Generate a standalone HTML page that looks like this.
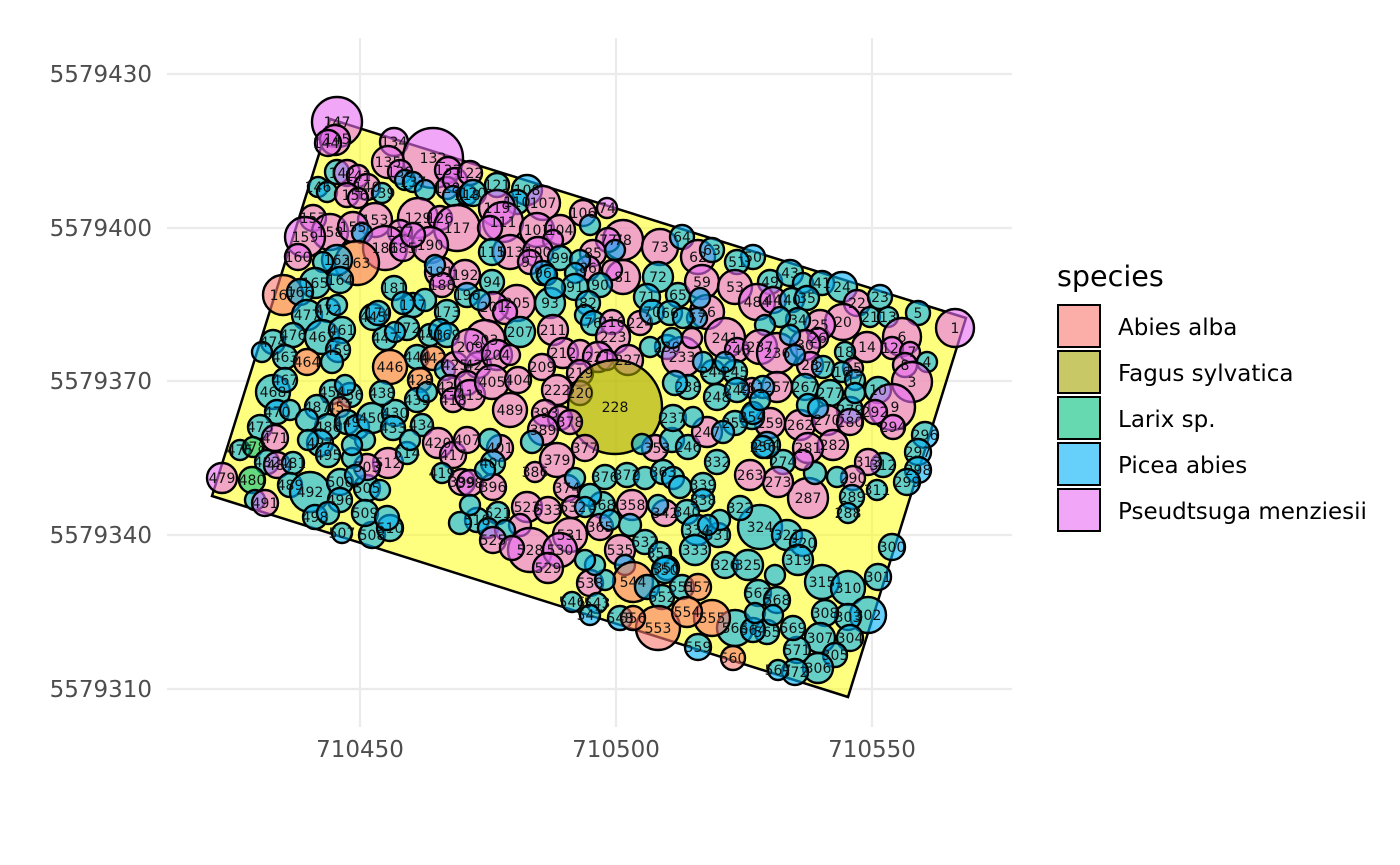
<!DOCTYPE html>
<html><head><meta charset="utf-8"><style>
html,body{margin:0;padding:0;background:#fff;}
svg{display:block;font-family:"DejaVu Sans","Liberation Sans",sans-serif;}
.A{fill:#F8766D;fill-opacity:.6;stroke:#000;stroke-width:2.4}
.F{fill:#A3A500;fill-opacity:.6;stroke:#000;stroke-width:2.4}
.L{fill:#00BF7D;fill-opacity:.6;stroke:#000;stroke-width:2.4}
.P{fill:#00B0F6;fill-opacity:.6;stroke:#000;stroke-width:2.4}
.D{fill:#E76BF3;fill-opacity:.6;stroke:#000;stroke-width:2.4}
.lb text{font-size:14px;fill:#111;text-anchor:middle;}
.tk{font-size:23px;fill:#4D4D4D;}
.lg{font-size:23px;fill:#000;}
</style></head><body>
<svg width="1400" height="865" viewBox="0 0 1400 865" xmlns="http://www.w3.org/2000/svg">
<rect width="1400" height="865" fill="#fff"/>
<g stroke="#EBEBEB" stroke-width="2.2">
<line x1="167" y1="74" x2="1012" y2="74"/>
<line x1="167" y1="228" x2="1012" y2="228"/>
<line x1="167" y1="381" x2="1012" y2="381"/>
<line x1="167" y1="535" x2="1012" y2="535"/>
<line x1="167" y1="689" x2="1012" y2="689"/>
<line x1="360" y1="38" x2="360" y2="727"/>
<line x1="616" y1="38" x2="616" y2="727"/>
<line x1="872" y1="38" x2="872" y2="727"/>
</g>
<polygon points="330,119 966,318 848,697 212,496" fill="#FFFF00" fill-opacity="0.5" stroke="#000" stroke-width="2.5"/>
<g>
<circle class="D" cx="337" cy="122" r="25"/>
<circle class="D" cx="335" cy="140" r="15"/>
<circle class="D" cx="328" cy="143" r="13"/>
<circle class="D" cx="394" cy="142" r="14"/>
<circle class="D" cx="433" cy="158" r="30"/>
<circle class="D" cx="388" cy="162" r="16"/>
<circle class="D" cx="400" cy="172" r="12"/>
<circle class="P" cx="405" cy="180" r="10"/>
<circle class="D" cx="448" cy="170" r="13"/>
<circle class="P" cx="337" cy="172" r="12"/>
<circle class="D" cx="347" cy="173" r="13"/>
<circle class="D" cx="358" cy="176" r="11"/>
<circle class="P" cx="318" cy="187" r="10"/>
<circle class="P" cx="327" cy="192" r="10"/>
<circle class="D" cx="367" cy="187" r="13"/>
<circle class="D" cx="347" cy="195" r="12"/>
<circle class="P" cx="382" cy="193" r="10"/>
<circle class="D" cx="358" cy="198" r="10"/>
<circle class="P" cx="413" cy="182" r="10"/>
<circle class="D" cx="447" cy="188" r="11"/>
<circle class="P" cx="425" cy="190" r="10"/>
<circle class="D" cx="455" cy="180" r="12"/>
<circle class="P" cx="453" cy="196" r="10"/>
<circle class="D" cx="375" cy="220" r="17"/>
<circle class="D" cx="313" cy="218" r="13"/>
<circle class="D" cx="330" cy="232" r="18"/>
<circle class="D" cx="305" cy="237" r="20"/>
<circle class="D" cx="353" cy="227" r="15"/>
<circle class="P" cx="362" cy="233" r="10"/>
<circle class="D" cx="418" cy="218" r="20"/>
<circle class="D" cx="440" cy="218" r="12"/>
<circle class="D" cx="400" cy="232" r="12"/>
<circle class="D" cx="457" cy="228" r="23"/>
<circle class="D" cx="385" cy="248" r="22"/>
<circle class="D" cx="403" cy="248" r="13"/>
<circle class="D" cx="430" cy="245" r="18"/>
<circle class="D" cx="413" cy="235" r="12"/>
<circle class="A" cx="357" cy="263" r="22"/>
<circle class="P" cx="337" cy="260" r="15"/>
<circle class="D" cx="298" cy="257" r="13"/>
<circle class="P" cx="323" cy="262" r="10"/>
<circle class="P" cx="315" cy="283" r="15"/>
<circle class="P" cx="340" cy="280" r="13"/>
<circle class="A" cx="283" cy="295" r="20"/>
<circle class="P" cx="300" cy="292" r="13"/>
<circle class="P" cx="394" cy="288" r="12"/>
<circle class="D" cx="440" cy="272" r="15"/>
<circle class="D" cx="465" cy="275" r="15"/>
<circle class="D" cx="442" cy="285" r="12"/>
<circle class="P" cx="435" cy="265" r="10"/>
<circle class="P" cx="467" cy="195" r="10"/>
<circle class="D" cx="470" cy="173" r="12"/>
<circle class="P" cx="473" cy="193" r="13"/>
<circle class="P" cx="497" cy="185" r="12"/>
<circle class="P" cx="527" cy="190" r="15"/>
<circle class="P" cx="517" cy="202" r="12"/>
<circle class="D" cx="543" cy="203" r="17"/>
<circle class="D" cx="497" cy="208" r="18"/>
<circle class="D" cx="503" cy="222" r="20"/>
<circle class="D" cx="490" cy="228" r="12"/>
<circle class="D" cx="537" cy="230" r="17"/>
<circle class="D" cx="560" cy="230" r="15"/>
<circle class="D" cx="583" cy="213" r="13"/>
<circle class="P" cx="590" cy="225" r="10"/>
<circle class="D" cx="607" cy="208" r="10"/>
<circle class="D" cx="553" cy="240" r="10"/>
<circle class="D" cx="623" cy="240" r="20"/>
<circle class="D" cx="608" cy="240" r="12"/>
<circle class="D" cx="660" cy="247" r="18"/>
<circle class="P" cx="682" cy="237" r="12"/>
<circle class="D" cx="698" cy="257" r="17"/>
<circle class="P" cx="712" cy="250" r="12"/>
<circle class="D" cx="510" cy="252" r="17"/>
<circle class="D" cx="538" cy="252" r="15"/>
<circle class="P" cx="492" cy="252" r="13"/>
<circle class="D" cx="530" cy="262" r="12"/>
<circle class="P" cx="560" cy="258" r="12"/>
<circle class="P" cx="543" cy="273" r="12"/>
<circle class="D" cx="593" cy="253" r="13"/>
<circle class="P" cx="615" cy="250" r="10"/>
<circle class="D" cx="588" cy="268" r="12"/>
<circle class="P" cx="580" cy="260" r="10"/>
<circle class="P" cx="575" cy="273" r="10"/>
<circle class="D" cx="623" cy="277" r="17"/>
<circle class="D" cx="612" cy="270" r="10"/>
<circle class="P" cx="658" cy="277" r="15"/>
<circle class="P" cx="575" cy="287" r="13"/>
<circle class="P" cx="600" cy="285" r="12"/>
<circle class="P" cx="647" cy="297" r="13"/>
<circle class="P" cx="678" cy="295" r="12"/>
<circle class="D" cx="702" cy="282" r="17"/>
<circle class="D" cx="707" cy="312" r="17"/>
<circle class="P" cx="700" cy="298" r="10"/>
<circle class="P" cx="697" cy="318" r="10"/>
<circle class="P" cx="492" cy="282" r="12"/>
<circle class="D" cx="517" cy="303" r="18"/>
<circle class="D" cx="493" cy="307" r="15"/>
<circle class="D" cx="505" cy="312" r="12"/>
<circle class="P" cx="550" cy="303" r="15"/>
<circle class="P" cx="588" cy="303" r="12"/>
<circle class="P" cx="585" cy="315" r="10"/>
<circle class="P" cx="593" cy="323" r="12"/>
<circle class="P" cx="520" cy="332" r="15"/>
<circle class="D" cx="553" cy="330" r="15"/>
<circle class="D" cx="485" cy="340" r="20"/>
<circle class="D" cx="612" cy="322" r="12"/>
<circle class="D" cx="613" cy="337" r="17"/>
<circle class="D" cx="640" cy="323" r="12"/>
<circle class="D" cx="563" cy="353" r="15"/>
<circle class="D" cx="580" cy="352" r="12"/>
<circle class="D" cx="598" cy="357" r="15"/>
<circle class="D" cx="628" cy="360" r="15"/>
<circle class="P" cx="667" cy="347" r="12"/>
<circle class="D" cx="682" cy="357" r="20"/>
<circle class="D" cx="725" cy="338" r="20"/>
<circle class="P" cx="652" cy="312" r="12"/>
<circle class="P" cx="670" cy="313" r="12"/>
<circle class="P" cx="683" cy="318" r="10"/>
<circle class="P" cx="672" cy="338" r="10"/>
<circle class="D" cx="692" cy="338" r="10"/>
<circle class="P" cx="650" cy="347" r="10"/>
<circle class="D" cx="607" cy="360" r="10"/>
<circle class="P" cx="753" cy="257" r="12"/>
<circle class="P" cx="737" cy="262" r="12"/>
<circle class="P" cx="770" cy="282" r="12"/>
<circle class="P" cx="790" cy="273" r="13"/>
<circle class="P" cx="803" cy="283" r="10"/>
<circle class="P" cx="822" cy="283" r="12"/>
<circle class="P" cx="842" cy="287" r="15"/>
<circle class="D" cx="857" cy="303" r="13"/>
<circle class="P" cx="880" cy="297" r="12"/>
<circle class="P" cx="870" cy="317" r="10"/>
<circle class="P" cx="888" cy="317" r="10"/>
<circle class="P" cx="918" cy="313" r="12"/>
<circle class="D" cx="955" cy="328" r="19"/>
<circle class="D" cx="902" cy="337" r="19"/>
<circle class="D" cx="892" cy="348" r="11"/>
<circle class="D" cx="910" cy="352" r="10"/>
<circle class="D" cx="843" cy="322" r="18"/>
<circle class="D" cx="820" cy="325" r="15"/>
<circle class="D" cx="818" cy="338" r="10"/>
<circle class="D" cx="867" cy="347" r="15"/>
<circle class="P" cx="845" cy="352" r="10"/>
<circle class="D" cx="853" cy="368" r="10"/>
<circle class="P" cx="842" cy="372" r="10"/>
<circle class="P" cx="855" cy="380" r="10"/>
<circle class="D" cx="905" cy="365" r="12"/>
<circle class="P" cx="927" cy="362" r="10"/>
<circle class="D" cx="912" cy="382" r="20"/>
<circle class="P" cx="878" cy="390" r="13"/>
<circle class="D" cx="892" cy="407" r="23"/>
<circle class="D" cx="875" cy="412" r="12"/>
<circle class="D" cx="893" cy="427" r="12"/>
<circle class="D" cx="735" cy="287" r="17"/>
<circle class="D" cx="757" cy="302" r="18"/>
<circle class="D" cx="773" cy="300" r="13"/>
<circle class="P" cx="792" cy="300" r="12"/>
<circle class="P" cx="807" cy="298" r="12"/>
<circle class="P" cx="798" cy="320" r="12"/>
<circle class="P" cx="780" cy="317" r="10"/>
<circle class="P" cx="765" cy="325" r="10"/>
<circle class="D" cx="737" cy="350" r="12"/>
<circle class="D" cx="760" cy="347" r="17"/>
<circle class="D" cx="777" cy="353" r="20"/>
<circle class="D" cx="805" cy="345" r="15"/>
<circle class="D" cx="810" cy="365" r="13"/>
<circle class="P" cx="823" cy="367" r="11"/>
<circle class="P" cx="735" cy="372" r="12"/>
<circle class="D" cx="752" cy="388" r="10"/>
<circle class="D" cx="777" cy="387" r="15"/>
<circle class="P" cx="805" cy="387" r="13"/>
<circle class="P" cx="830" cy="393" r="13"/>
<circle class="P" cx="850" cy="410" r="13"/>
<circle class="D" cx="770" cy="423" r="15"/>
<circle class="D" cx="800" cy="425" r="15"/>
<circle class="D" cx="827" cy="420" r="15"/>
<circle class="D" cx="850" cy="422" r="13"/>
<circle class="P" cx="752" cy="417" r="12"/>
<circle class="P" cx="808" cy="405" r="11"/>
<circle class="P" cx="818" cy="408" r="10"/>
<circle class="P" cx="855" cy="393" r="10"/>
<circle class="P" cx="790" cy="335" r="10"/>
<circle class="P" cx="795" cy="355" r="10"/>
<circle class="P" cx="307" cy="315" r="15"/>
<circle class="P" cx="328" cy="310" r="12"/>
<circle class="P" cx="337" cy="305" r="10"/>
<circle class="P" cx="273" cy="342" r="12"/>
<circle class="P" cx="293" cy="335" r="12"/>
<circle class="P" cx="322" cy="337" r="17"/>
<circle class="P" cx="342" cy="330" r="13"/>
<circle class="P" cx="285" cy="357" r="12"/>
<circle class="A" cx="307" cy="362" r="13"/>
<circle class="P" cx="338" cy="350" r="12"/>
<circle class="P" cx="332" cy="362" r="11"/>
<circle class="P" cx="262" cy="352" r="10"/>
<circle class="P" cx="273" cy="392" r="17"/>
<circle class="P" cx="285" cy="380" r="12"/>
<circle class="P" cx="277" cy="412" r="12"/>
<circle class="P" cx="290" cy="410" r="10"/>
<circle class="P" cx="260" cy="427" r="12"/>
<circle class="P" cx="240" cy="450" r="10"/>
<circle class="L" cx="253" cy="447" r="10"/>
<circle class="D" cx="275" cy="438" r="13"/>
<circle class="P" cx="267" cy="462" r="12"/>
<circle class="D" cx="277" cy="465" r="13"/>
<circle class="P" cx="293" cy="463" r="11"/>
<circle class="D" cx="222" cy="478" r="15"/>
<circle class="L" cx="252" cy="480" r="13"/>
<circle class="P" cx="255" cy="500" r="10"/>
<circle class="D" cx="265" cy="503" r="13"/>
<circle class="P" cx="290" cy="485" r="12"/>
<circle class="P" cx="310" cy="492" r="20"/>
<circle class="P" cx="340" cy="482" r="13"/>
<circle class="P" cx="367" cy="488" r="13"/>
<circle class="P" cx="340" cy="500" r="12"/>
<circle class="P" cx="315" cy="517" r="12"/>
<circle class="P" cx="328" cy="513" r="11"/>
<circle class="P" cx="342" cy="533" r="10"/>
<circle class="P" cx="372" cy="535" r="13"/>
<circle class="P" cx="365" cy="513" r="13"/>
<circle class="P" cx="390" cy="528" r="13"/>
<circle class="P" cx="387" cy="518" r="12"/>
<circle class="D" cx="388" cy="463" r="15"/>
<circle class="D" cx="367" cy="467" r="13"/>
<circle class="P" cx="352" cy="458" r="10"/>
<circle class="P" cx="355" cy="475" r="10"/>
<circle class="P" cx="380" cy="490" r="10"/>
<circle class="P" cx="407" cy="453" r="11"/>
<circle class="P" cx="332" cy="392" r="12"/>
<circle class="P" cx="350" cy="395" r="12"/>
<circle class="P" cx="345" cy="385" r="10"/>
<circle class="A" cx="340" cy="407" r="10"/>
<circle class="P" cx="317" cy="407" r="12"/>
<circle class="P" cx="328" cy="427" r="13"/>
<circle class="P" cx="307" cy="420" r="11"/>
<circle class="P" cx="320" cy="443" r="13"/>
<circle class="P" cx="328" cy="455" r="12"/>
<circle class="P" cx="308" cy="440" r="10"/>
<circle class="P" cx="347" cy="422" r="12"/>
<circle class="P" cx="357" cy="427" r="12"/>
<circle class="P" cx="372" cy="418" r="15"/>
<circle class="P" cx="365" cy="440" r="10"/>
<circle class="P" cx="352" cy="445" r="10"/>
<circle class="A" cx="390" cy="367" r="17"/>
<circle class="P" cx="385" cy="338" r="12"/>
<circle class="P" cx="373" cy="317" r="13"/>
<circle class="P" cx="430" cy="335" r="11"/>
<circle class="P" cx="417" cy="357" r="12"/>
<circle class="A" cx="433" cy="358" r="12"/>
<circle class="A" cx="420" cy="380" r="12"/>
<circle class="P" cx="445" cy="370" r="10"/>
<circle class="P" cx="395" cy="413" r="13"/>
<circle class="P" cx="382" cy="393" r="12"/>
<circle class="P" cx="417" cy="400" r="12"/>
<circle class="P" cx="393" cy="428" r="12"/>
<circle class="P" cx="422" cy="425" r="11"/>
<circle class="P" cx="410" cy="440" r="10"/>
<circle class="P" cx="427" cy="392" r="10"/>
<circle class="D" cx="455" cy="365" r="13"/>
<circle class="D" cx="450" cy="387" r="12"/>
<circle class="D" cx="478" cy="365" r="13"/>
<circle class="D" cx="438" cy="443" r="15"/>
<circle class="D" cx="453" cy="455" r="13"/>
<circle class="P" cx="442" cy="473" r="10"/>
<circle class="D" cx="462" cy="482" r="13"/>
<circle class="D" cx="453" cy="400" r="12"/>
<circle class="D" cx="467" cy="383" r="12"/>
<circle class="D" cx="470" cy="395" r="15"/>
<circle class="P" cx="467" cy="295" r="12"/>
<circle class="P" cx="480" cy="300" r="10"/>
<circle class="P" cx="413" cy="305" r="12"/>
<circle class="P" cx="403" cy="303" r="11"/>
<circle class="P" cx="425" cy="300" r="11"/>
<circle class="P" cx="447" cy="312" r="12"/>
<circle class="P" cx="378" cy="313" r="12"/>
<circle class="P" cx="440" cy="330" r="11"/>
<circle class="P" cx="407" cy="328" r="12"/>
<circle class="P" cx="447" cy="335" r="12"/>
<circle class="P" cx="395" cy="332" r="10"/>
<circle class="D" cx="470" cy="347" r="18"/>
<circle class="D" cx="497" cy="355" r="15"/>
<circle class="D" cx="510" cy="355" r="10"/>
<circle class="D" cx="492" cy="382" r="17"/>
<circle class="D" cx="518" cy="380" r="13"/>
<circle class="D" cx="542" cy="367" r="13"/>
<circle class="D" cx="580" cy="373" r="13"/>
<circle class="D" cx="580" cy="393" r="12"/>
<circle class="D" cx="557" cy="390" r="15"/>
<circle class="P" cx="547" cy="275" r="10"/>
<circle class="P" cx="555" cy="288" r="10"/>
<circle class="D" cx="510" cy="410" r="17"/>
<circle class="F" cx="615" cy="407" r="47"/>
<circle class="D" cx="545" cy="413" r="13"/>
<circle class="D" cx="560" cy="418" r="12"/>
<circle class="D" cx="570" cy="422" r="12"/>
<circle class="D" cx="543" cy="430" r="15"/>
<circle class="P" cx="532" cy="442" r="11"/>
<circle class="D" cx="467" cy="440" r="13"/>
<circle class="D" cx="500" cy="448" r="13"/>
<circle class="P" cx="490" cy="440" r="11"/>
<circle class="P" cx="493" cy="463" r="12"/>
<circle class="D" cx="585" cy="448" r="13"/>
<circle class="D" cx="535" cy="472" r="10"/>
<circle class="D" cx="557" cy="460" r="17"/>
<circle class="D" cx="470" cy="483" r="13"/>
<circle class="D" cx="493" cy="487" r="13"/>
<circle class="P" cx="485" cy="470" r="10"/>
<circle class="D" cx="567" cy="488" r="13"/>
<circle class="P" cx="575" cy="478" r="10"/>
<circle class="P" cx="605" cy="477" r="12"/>
<circle class="P" cx="627" cy="475" r="12"/>
<circle class="P" cx="645" cy="478" r="11"/>
<circle class="P" cx="663" cy="472" r="12"/>
<circle class="P" cx="673" cy="478" r="11"/>
<circle class="D" cx="632" cy="505" r="15"/>
<circle class="D" cx="655" cy="448" r="13"/>
<circle class="P" cx="672" cy="440" r="12"/>
<circle class="P" cx="642" cy="444" r="10"/>
<circle class="P" cx="688" cy="447" r="12"/>
<circle class="P" cx="688" cy="387" r="12"/>
<circle class="P" cx="675" cy="383" r="12"/>
<circle class="P" cx="717" cy="397" r="13"/>
<circle class="D" cx="707" cy="432" r="15"/>
<circle class="P" cx="673" cy="418" r="13"/>
<circle class="P" cx="693" cy="417" r="10"/>
<circle class="P" cx="737" cy="390" r="12"/>
<circle class="P" cx="703" cy="485" r="12"/>
<circle class="P" cx="703" cy="500" r="11"/>
<circle class="D" cx="665" cy="513" r="13"/>
<circle class="P" cx="658" cy="505" r="10"/>
<circle class="P" cx="687" cy="512" r="12"/>
<circle class="P" cx="680" cy="487" r="11"/>
<circle class="P" cx="697" cy="530" r="15"/>
<circle class="P" cx="695" cy="550" r="15"/>
<circle class="P" cx="718" cy="535" r="12"/>
<circle class="P" cx="602" cy="505" r="13"/>
<circle class="D" cx="600" cy="527" r="13"/>
<circle class="P" cx="610" cy="520" r="10"/>
<circle class="P" cx="630" cy="525" r="11"/>
<circle class="D" cx="620" cy="550" r="15"/>
<circle class="P" cx="645" cy="542" r="12"/>
<circle class="P" cx="625" cy="565" r="10"/>
<circle class="P" cx="660" cy="553" r="11"/>
<circle class="P" cx="667" cy="568" r="12"/>
<circle class="D" cx="570" cy="535" r="17"/>
<circle class="D" cx="527" cy="507" r="15"/>
<circle class="D" cx="520" cy="525" r="11"/>
<circle class="D" cx="548" cy="510" r="13"/>
<circle class="D" cx="573" cy="507" r="11"/>
<circle class="P" cx="477" cy="520" r="12"/>
<circle class="P" cx="460" cy="523" r="11"/>
<circle class="P" cx="498" cy="513" r="11"/>
<circle class="P" cx="470" cy="505" r="10"/>
<circle class="P" cx="488" cy="528" r="10"/>
<circle class="P" cx="505" cy="530" r="10"/>
<circle class="D" cx="493" cy="540" r="13"/>
<circle class="D" cx="530" cy="550" r="22"/>
<circle class="D" cx="560" cy="550" r="17"/>
<circle class="D" cx="548" cy="568" r="15"/>
<circle class="D" cx="512" cy="548" r="12"/>
<circle class="P" cx="590" cy="495" r="11"/>
<circle class="P" cx="585" cy="507" r="10"/>
<circle class="P" cx="925" cy="435" r="13"/>
<circle class="P" cx="918" cy="452" r="13"/>
<circle class="P" cx="918" cy="470" r="13"/>
<circle class="P" cx="907" cy="482" r="13"/>
<circle class="P" cx="883" cy="465" r="12"/>
<circle class="P" cx="877" cy="490" r="10"/>
<circle class="D" cx="868" cy="462" r="13"/>
<circle class="D" cx="853" cy="478" r="12"/>
<circle class="P" cx="837" cy="477" r="10"/>
<circle class="P" cx="852" cy="497" r="12"/>
<circle class="P" cx="848" cy="513" r="10"/>
<circle class="D" cx="808" cy="498" r="20"/>
<circle class="P" cx="815" cy="473" r="11"/>
<circle class="D" cx="833" cy="445" r="15"/>
<circle class="D" cx="808" cy="448" r="15"/>
<circle class="D" cx="803" cy="460" r="10"/>
<circle class="P" cx="783" cy="462" r="12"/>
<circle class="D" cx="778" cy="482" r="15"/>
<circle class="D" cx="750" cy="475" r="15"/>
<circle class="P" cx="767" cy="445" r="13"/>
<circle class="P" cx="760" cy="527" r="22"/>
<circle class="P" cx="787" cy="535" r="15"/>
<circle class="P" cx="803" cy="543" r="13"/>
<circle class="P" cx="798" cy="560" r="15"/>
<circle class="P" cx="725" cy="565" r="13"/>
<circle class="P" cx="748" cy="565" r="15"/>
<circle class="P" cx="740" cy="508" r="12"/>
<circle class="P" cx="822" cy="582" r="17"/>
<circle class="P" cx="848" cy="588" r="17"/>
<circle class="P" cx="878" cy="577" r="13"/>
<circle class="P" cx="892" cy="547" r="13"/>
<circle class="P" cx="868" cy="615" r="18"/>
<circle class="P" cx="848" cy="617" r="13"/>
<circle class="P" cx="825" cy="613" r="13"/>
<circle class="P" cx="850" cy="638" r="13"/>
<circle class="P" cx="820" cy="638" r="15"/>
<circle class="P" cx="835" cy="655" r="12"/>
<circle class="P" cx="818" cy="668" r="15"/>
<circle class="P" cx="797" cy="650" r="13"/>
<circle class="P" cx="795" cy="672" r="13"/>
<circle class="P" cx="778" cy="670" r="10"/>
<circle class="P" cx="793" cy="628" r="12"/>
<circle class="P" cx="767" cy="632" r="12"/>
<circle class="P" cx="735" cy="628" r="18"/>
<circle class="P" cx="753" cy="630" r="12"/>
<circle class="P" cx="758" cy="593" r="13"/>
<circle class="P" cx="755" cy="613" r="10"/>
<circle class="P" cx="777" cy="600" r="13"/>
<circle class="P" cx="773" cy="615" r="10"/>
<circle class="A" cx="733" cy="658" r="12"/>
<circle class="A" cx="712" cy="618" r="18"/>
<circle class="P" cx="720" cy="520" r="10"/>
<circle class="P" cx="708" cy="525" r="10"/>
<circle class="P" cx="775" cy="575" r="10"/>
<circle class="D" cx="590" cy="583" r="13"/>
<circle class="A" cx="633" cy="582" r="20"/>
<circle class="P" cx="647" cy="587" r="12"/>
<circle class="P" cx="665" cy="570" r="13"/>
<circle class="P" cx="662" cy="597" r="12"/>
<circle class="P" cx="682" cy="587" r="12"/>
<circle class="A" cx="698" cy="587" r="13"/>
<circle class="P" cx="572" cy="602" r="10"/>
<circle class="P" cx="597" cy="603" r="10"/>
<circle class="P" cx="590" cy="615" r="10"/>
<circle class="P" cx="620" cy="618" r="12"/>
<circle class="A" cx="658" cy="628" r="22"/>
<circle class="A" cx="687" cy="612" r="15"/>
<circle class="A" cx="633" cy="618" r="12"/>
<circle class="P" cx="698" cy="647" r="13"/>
<circle class="P" cx="605" cy="580" r="10"/>
<circle class="P" cx="595" cy="565" r="10"/>
<circle class="P" cx="585" cy="560" r="10"/>
<circle class="P" cx="735" cy="423" r="12"/>
<circle class="P" cx="753" cy="413" r="11"/>
<circle class="P" cx="763" cy="447" r="11"/>
<circle class="P" cx="723" cy="432" r="11"/>
<circle class="P" cx="717" cy="462" r="12"/>
<circle class="P" cx="763" cy="387" r="11"/>
<circle class="P" cx="760" cy="400" r="10"/>
<circle class="P" cx="713" cy="372" r="12"/>
<circle class="P" cx="703" cy="362" r="10"/>
<circle class="P" cx="725" cy="362" r="10"/>
</g>
<g class="lb">
<text x="337" y="127">147</text><text x="337" y="144">145</text><text x="326" y="148">144</text><text x="394" y="147">134</text>
<text x="433" y="163">132</text><text x="388" y="167">135</text><text x="400" y="177">138</text><text x="448" y="175">133</text>
<text x="342" y="178">142</text><text x="358" y="181">141</text><text x="318" y="192">146</text><text x="367" y="192">140</text>
<text x="382" y="198">139</text><text x="355" y="200">156</text><text x="413" y="187">137</text><text x="447" y="193">128</text>
<text x="375" y="225">153</text><text x="313" y="223">157</text><text x="330" y="237">158</text><text x="305" y="242">159</text>
<text x="353" y="232">155</text><text x="418" y="223">129</text><text x="440" y="223">126</text><text x="400" y="237">127</text>
<text x="457" y="233">117</text><text x="385" y="253">186</text><text x="403" y="253">185</text><text x="430" y="250">190</text>
<text x="357" y="268">163</text><text x="337" y="265">162</text><text x="298" y="262">160</text><text x="315" y="288">165</text>
<text x="340" y="285">164</text><text x="283" y="300">167</text><text x="300" y="297">166</text><text x="394" y="293">181</text>
<text x="440" y="277">191</text><text x="465" y="280">192</text><text x="442" y="290">188</text><text x="467" y="200">118</text>
<text x="470" y="178">122</text><text x="473" y="198">120</text><text x="497" y="190">121</text><text x="527" y="195">108</text>
<text x="517" y="207">110</text><text x="543" y="208">107</text><text x="497" y="213">119</text><text x="503" y="227">111</text>
<text x="537" y="235">101</text><text x="560" y="235">104</text><text x="583" y="218">106</text><text x="607" y="213">74</text>
<text x="623" y="245">78</text><text x="608" y="245">77</text><text x="660" y="252">73</text><text x="682" y="242">64</text>
<text x="698" y="262">62</text><text x="712" y="255">63</text><text x="510" y="257">113</text><text x="538" y="257">100</text>
<text x="492" y="257">115</text><text x="530" y="267">97</text><text x="560" y="263">99</text><text x="543" y="278">96</text>
<text x="593" y="258">85</text><text x="588" y="273">86</text><text x="623" y="282">81</text><text x="658" y="282">72</text>
<text x="575" y="292">91</text><text x="600" y="290">90</text><text x="647" y="302">71</text><text x="678" y="300">65</text>
<text x="702" y="287">59</text><text x="707" y="317">56</text><text x="697" y="323">57</text><text x="492" y="287">94</text>
<text x="517" y="308">205</text><text x="493" y="312">201</text><text x="550" y="308">93</text><text x="588" y="308">82</text>
<text x="593" y="328">76</text><text x="520" y="337">207</text><text x="553" y="335">211</text><text x="485" y="345">203</text>
<text x="613" y="342">223</text><text x="612" y="327">216</text><text x="640" y="328">224</text><text x="563" y="358">212</text>
<text x="598" y="362">221</text><text x="628" y="365">227</text><text x="667" y="352">230</text><text x="682" y="362">233</text>
<text x="725" y="343">241</text><text x="652" y="317">70</text><text x="670" y="318">66</text>
<text x="753" y="262">50</text><text x="737" y="267">51</text><text x="770" y="287">49</text><text x="790" y="278">43</text>
<text x="822" y="288">41</text><text x="842" y="292">24</text><text x="857" y="308">22</text><text x="880" y="302">23</text>
<text x="870" y="322">21</text><text x="888" y="322">13</text><text x="918" y="318">5</text><text x="955" y="333">1</text>
<text x="902" y="342">6</text><text x="890" y="353">12</text><text x="912" y="357">7</text><text x="843" y="327">20</text>
<text x="820" y="330">25</text><text x="818" y="343">26</text><text x="867" y="352">14</text><text x="845" y="357">18</text>
<text x="853" y="373">15</text><text x="842" y="377">16</text><text x="855" y="385">17</text><text x="905" y="370">8</text>
<text x="927" y="367">4</text><text x="912" y="387">3</text><text x="878" y="395">10</text><text x="895" y="412">9</text>
<text x="875" y="417">292</text><text x="893" y="432">294</text><text x="735" y="292">53</text><text x="757" y="307">484</text>
<text x="773" y="305">44</text><text x="792" y="305">40</text><text x="807" y="303">35</text><text x="798" y="325">34</text>
<text x="737" y="355">243</text><text x="760" y="352">237</text><text x="777" y="358">236</text><text x="805" y="350">30</text>
<text x="810" y="370">28</text><text x="823" y="372">27</text><text x="735" y="377">245</text><text x="752" y="393">251</text>
<text x="777" y="392">257</text><text x="805" y="392">267</text><text x="830" y="398">277</text><text x="850" y="415">279</text>
<text x="770" y="428">259</text><text x="800" y="430">262</text><text x="827" y="425">270</text><text x="850" y="427">280</text>
<text x="752" y="422">254</text><text x="307" y="320">477</text><text x="328" y="315">472</text><text x="273" y="347">474</text>
<text x="293" y="340">476</text><text x="322" y="342">462</text><text x="342" y="335">461</text><text x="285" y="362">463</text>
<text x="307" y="367">464</text><text x="338" y="355">459</text><text x="273" y="397">468</text><text x="285" y="385">467</text>
<text x="277" y="417">470</text><text x="260" y="432">473</text><text x="240" y="455">475</text><text x="253" y="452">478</text>
<text x="275" y="443">471</text><text x="267" y="467">482</text><text x="280" y="470">484</text><text x="293" y="468">481</text>
<text x="222" y="483">479</text><text x="252" y="485">480</text><text x="265" y="508">491</text><text x="290" y="490">489</text>
<text x="310" y="497">492</text><text x="340" y="487">500</text><text x="367" y="493">505</text><text x="340" y="505">496</text>
<text x="315" y="522">498</text><text x="342" y="538">507</text><text x="372" y="540">508</text><text x="365" y="518">509</text>
<text x="390" y="533">510</text><text x="388" y="468">512</text><text x="367" y="472">503</text><text x="407" y="458">514</text>
<text x="332" y="397">454</text><text x="350" y="400">456</text><text x="340" y="412">457</text><text x="317" y="412">487</text>
<text x="328" y="432">486</text><text x="320" y="448">497</text><text x="328" y="460">495</text><text x="347" y="427">449</text>
<text x="372" y="423">450</text><text x="390" y="372">446</text><text x="385" y="343">447</text><text x="373" y="322">445</text>
<text x="430" y="340">443</text><text x="417" y="362">444</text><text x="433" y="363">442</text><text x="420" y="385">428</text>
<text x="395" y="418">430</text><text x="382" y="398">438</text><text x="417" y="405">439</text><text x="393" y="433">433</text>
<text x="422" y="430">434</text><text x="455" y="370">425</text><text x="450" y="392">424</text><text x="478" y="370">421</text>
<text x="438" y="448">420</text><text x="453" y="460">417</text><text x="442" y="478">419</text><text x="462" y="487">399</text>
<text x="453" y="405">418</text><text x="470" y="400">413</text><text x="467" y="300">196</text><text x="413" y="310">177</text>
<text x="447" y="317">173</text><text x="378" y="318">174</text><text x="407" y="333">172</text><text x="447" y="340">169</text>
<text x="470" y="352">209</text><text x="497" y="360">204</text><text x="492" y="387">405</text><text x="518" y="385">404</text>
<text x="542" y="372">209</text><text x="580" y="378">219</text><text x="580" y="398">220</text><text x="557" y="395">222</text>
<text x="510" y="415">489</text><text x="615" y="412">228</text><text x="545" y="418">393</text><text x="570" y="427">378</text>
<text x="543" y="435">389</text><text x="467" y="445">407</text><text x="500" y="453">401</text><text x="493" y="468">400</text>
<text x="585" y="453">377</text><text x="535" y="477">386</text><text x="557" y="465">379</text><text x="470" y="488">398</text>
<text x="493" y="492">396</text><text x="567" y="493">374</text><text x="605" y="482">376</text><text x="627" y="480">372</text>
<text x="663" y="477">363</text><text x="632" y="510">358</text><text x="657" y="453">353</text><text x="688" y="452">246</text>
<text x="688" y="392">238</text><text x="717" y="402">248</text><text x="707" y="437">247</text><text x="673" y="423">237</text>
<text x="737" y="395">249</text><text x="703" y="490">339</text><text x="703" y="505">338</text><text x="665" y="518">342</text>
<text x="687" y="517">340</text><text x="697" y="535">334</text><text x="695" y="555">333</text><text x="718" y="540">331</text>
<text x="602" y="510">368</text><text x="600" y="532">365</text><text x="620" y="555">535</text><text x="645" y="547">537</text>
<text x="660" y="558">351</text><text x="667" y="573">350</text><text x="570" y="540">531</text><text x="527" y="512">523</text>
<text x="548" y="515">533</text><text x="573" y="512">532</text><text x="477" y="525">518</text><text x="498" y="518">521</text>
<text x="493" y="545">525</text><text x="530" y="555">528</text><text x="560" y="555">530</text><text x="548" y="573">529</text>
<text x="925" y="440">296</text><text x="918" y="457">297</text><text x="918" y="475">298</text><text x="907" y="487">299</text>
<text x="883" y="470">312</text><text x="877" y="495">311</text><text x="868" y="467">313</text><text x="853" y="483">290</text>
<text x="852" y="502">289</text><text x="848" y="518">288</text><text x="808" y="503">287</text><text x="833" y="450">282</text>
<text x="808" y="453">281</text><text x="783" y="467">274</text><text x="778" y="487">273</text><text x="750" y="480">263</text>
<text x="767" y="450">264</text><text x="760" y="532">324</text><text x="787" y="540">321</text><text x="803" y="548">320</text>
<text x="798" y="565">319</text><text x="725" y="570">326</text><text x="748" y="570">325</text><text x="740" y="513">322</text>
<text x="822" y="587">315</text><text x="848" y="593">310</text><text x="878" y="582">301</text><text x="892" y="552">300</text>
<text x="868" y="620">302</text><text x="848" y="622">303</text><text x="825" y="618">308</text><text x="850" y="643">304</text>
<text x="820" y="643">307</text><text x="835" y="660">305</text><text x="818" y="673">306</text><text x="797" y="655">571</text>
<text x="795" y="677">572</text><text x="778" y="675">567</text><text x="793" y="633">569</text><text x="767" y="637">565</text>
<text x="735" y="633">566</text><text x="753" y="635">564</text><text x="758" y="598">562</text><text x="777" y="605">568</text>
<text x="733" y="663">560</text><text x="712" y="623">555</text><text x="590" y="588">538</text><text x="633" y="587">544</text>
<text x="665" y="575">550</text><text x="662" y="602">552</text><text x="682" y="592">551</text><text x="698" y="592">557</text>
<text x="572" y="607">546</text><text x="597" y="608">543</text><text x="590" y="620">547</text><text x="620" y="623">548</text>
<text x="658" y="633">553</text><text x="687" y="617">554</text><text x="633" y="623">556</text><text x="698" y="652">559</text>
<text x="735" y="428">253</text><text x="763" y="452">256</text><text x="717" y="467">332</text><text x="713" y="377">244</text>
</g>
<g class="tk" text-anchor="end">
<text x="152" y="82">5579430</text>
<text x="152" y="236">5579400</text>
<text x="152" y="389">5579370</text>
<text x="152" y="543">5579340</text>
<text x="152" y="697">5579310</text>
</g>
<g class="tk" text-anchor="middle">
<text x="360" y="757">710450</text>
<text x="616" y="757">710500</text>
<text x="872" y="757">710550</text>
</g>
<text x="1057" y="286" style="font-size:28.6px;fill:#000">species</text>
<g stroke="#000" stroke-width="2">
<rect x="1058" y="305" width="42" height="42" fill="#F8766D" fill-opacity="0.6"/>
<rect x="1058" y="351" width="42" height="42" fill="#A3A500" fill-opacity="0.6"/>
<rect x="1058" y="397" width="42" height="42" fill="#00BF7D" fill-opacity="0.6"/>
<rect x="1058" y="443" width="42" height="42" fill="#00B0F6" fill-opacity="0.6"/>
<rect x="1058" y="489" width="42" height="42" fill="#E76BF3" fill-opacity="0.6"/>
</g>
<g class="lg">
<text x="1118" y="335">Abies alba</text>
<text x="1118" y="381">Fagus sylvatica</text>
<text x="1118" y="427">Larix sp.</text>
<text x="1118" y="473">Picea abies</text>
<text x="1118" y="519">Pseudtsuga menziesii</text>
</g>
</svg>
</body></html>
